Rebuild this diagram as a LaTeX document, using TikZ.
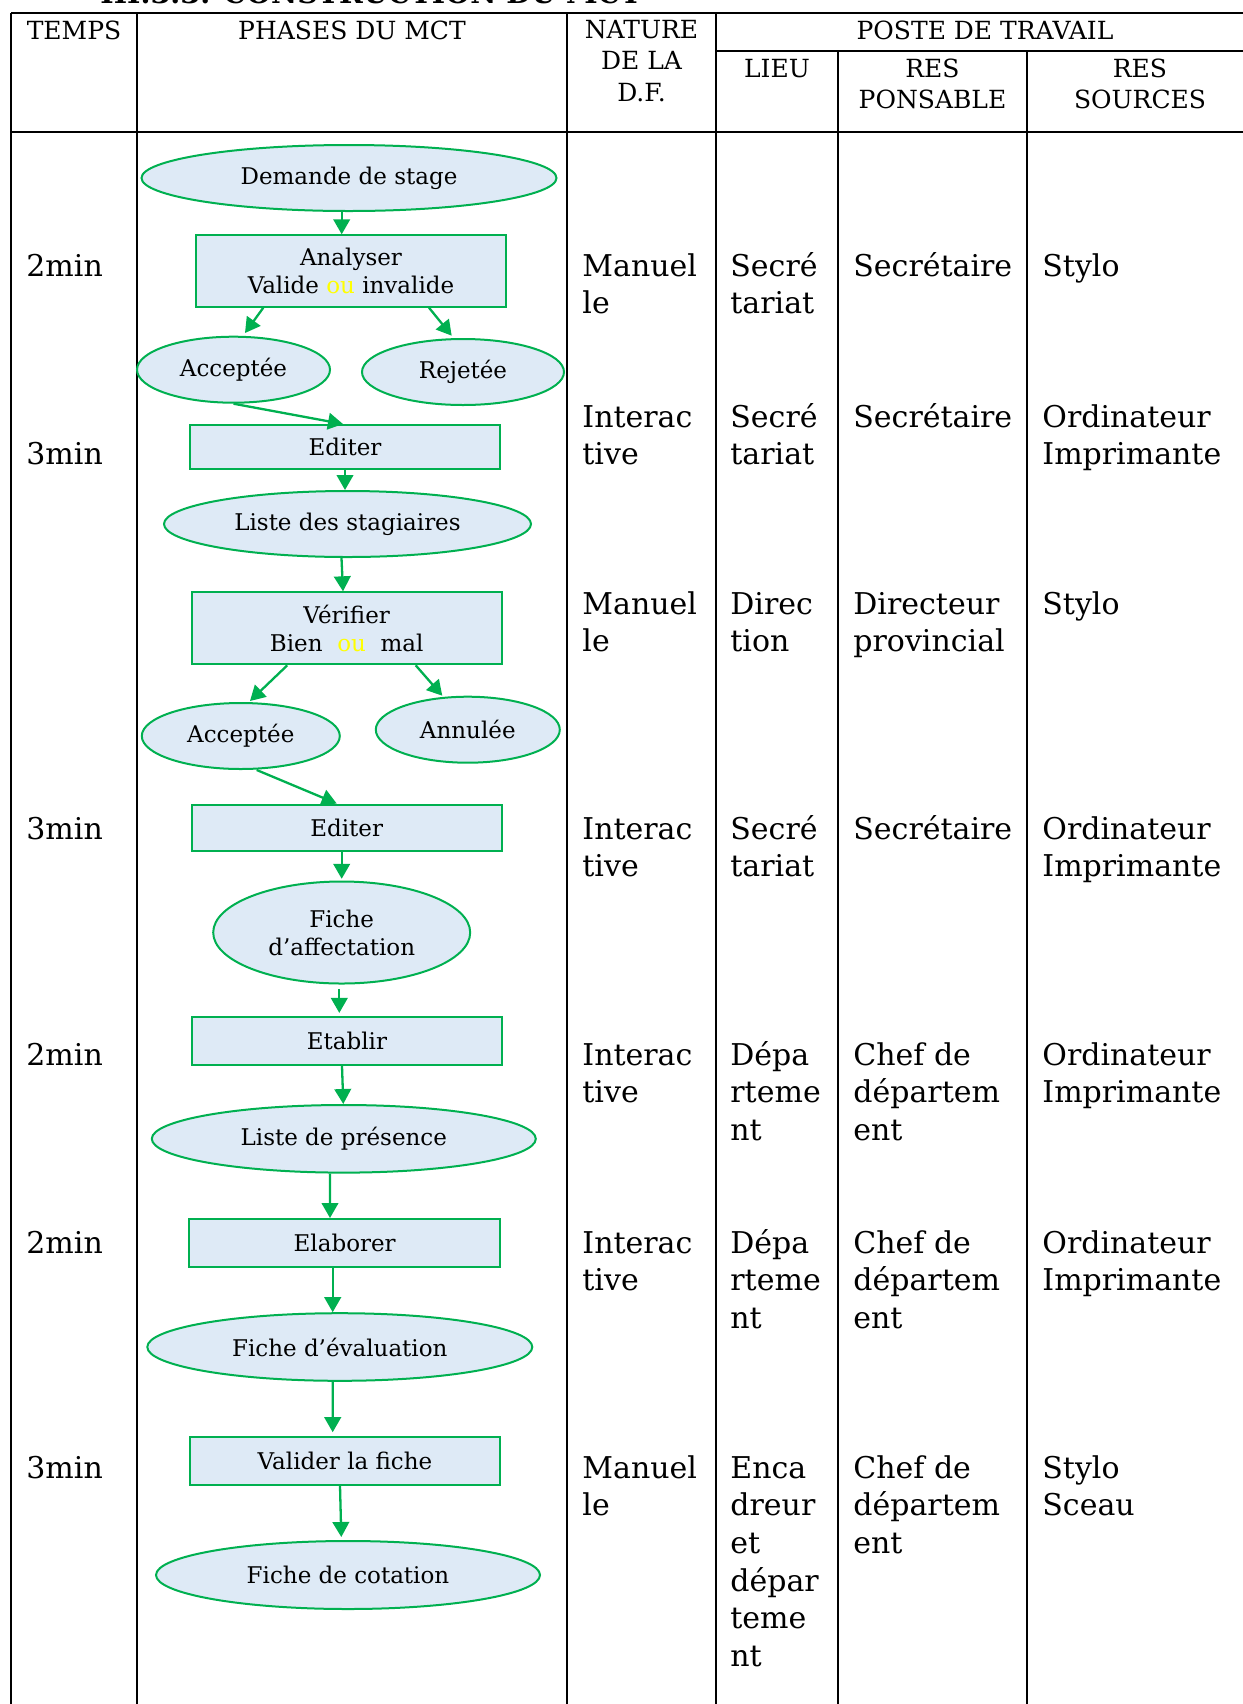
\documentclass[tikz,border=0pt]{standalone}
\usepackage{fontspec}
\setmainfont{DejaVu Serif}
\usetikzlibrary{shapes.geometric, arrows.meta}

\definecolor{flowgreen}{HTML}{00B050}
\definecolor{flowfill}{HTML}{DEEAF6}
\definecolor{ouyellow}{HTML}{FFFF00}

\newcommand\titletxt{\fontsize{14.3pt}{17pt}\selectfont\bfseries}
\newcommand\headtxt{\fontsize{12.5pt}{15.5pt}\selectfont}
\newcommand\nodetxt{\fontsize{11.5pt}{14pt}\selectfont}
\newcommand\celltxt{\fontsize{15pt}{19pt}\selectfont}

% one table cell: name prefix, x, first baseline, list of lines
\newcommand\cellcol[4]{%
  \foreach \ctext [count=\ci from 0] in {#4} {%
    \node[cell] (#1-\ci) at (#2,{#3+37.7*\ci}) {\ctext};}}
% one header cell: name prefix, centre x, first baseline, list of lines
\newcommand\headcol[4]{%
  \foreach \htext [count=\hi from 0] in {#4} {%
    \node[head] (#1-\hi) at (#2,{#3+31.4*\hi}) {\htext};}}

\begin{document}
\begin{tikzpicture}[x=0.5pt, y=-0.5pt,
  rule/.style={line width=0.85pt, black},
  procbox/.style={draw=flowgreen, fill=flowfill, line width=1pt, rectangle,
    inner sep=0pt, align=center, font=\nodetxt},
  docell/.style={draw=flowgreen, fill=flowfill, line width=1pt, ellipse,
    inner sep=0pt, align=center, font=\nodetxt},
  flow/.style={draw=flowgreen, line width=1.15pt,
    -{Triangle[length=7.5pt, width=8.3pt]}},
  head/.style={font=\headtxt, inner sep=0pt, anchor=base},
  cell/.style={font=\celltxt, inner sep=0pt, anchor=base west},
]
\useasboundingbox (0,0) rectangle (1243,1704);

% section title, mostly above the page
\node[anchor=base west, inner sep=0pt, font=\titletxt] (title) at (100,3)
  {III.3.3. CONSTRUCTION DU MCT};

% table rules
\draw[rule] (11,13) -- (1260,13);
\draw[rule] (716,51) -- (1260,51);
\draw[rule] (11,132) -- (1260,132);
\foreach \vx in {11,137,567,716} \draw[rule] (\vx,13) -- (\vx,1710);
\foreach \vx in {838,1027} \draw[rule] (\vx,51) -- (\vx,1710);

% header
\headcol{hT}{74}{39}{TEMPS}
\headcol{hP}{352}{39}{PHASES DU MCT}
\headcol{hN}{641.5}{38.5}{NATURE, DE LA, D.F.}
\headcol{hW}{985}{39}{POSTE DE TRAVAIL}
\headcol{hL}{777}{77.3}{LIEU}
\headcol{hR}{932.5}{77.3}{RES, PONSABLE}
\headcol{hS}{1140}{77.3}{RES, SOURCES}

% times
\cellcol{t1}{26}{276}{2min}
\cellcol{t2}{26}{464}{3min}
\cellcol{t4}{26}{839}{3min}
\cellcol{t5}{26}{1065}{2min}
\cellcol{t6}{26}{1253}{2min}
\cellcol{t7}{26}{1478}{3min}

% nature
\cellcol{n1}{582}{276}{Manuel, le}
\cellcol{n2}{582}{427}{Interac, tive}
\cellcol{n3}{582}{614}{Manuel, le}
\cellcol{n4}{582}{839}{Interac, tive}
\cellcol{n5}{582}{1065}{Interac, tive}
\cellcol{n6}{582}{1253}{Interac, tive}
\cellcol{n7}{582}{1478}{Manuel, le}

% lieu
\cellcol{l1}{730}{276}{Secré, tariat}
\cellcol{l2}{730}{427}{Secré, tariat}
\cellcol{l3}{730}{614}{Direc, tion}
\cellcol{l4}{730}{839}{Secré, tariat}
\cellcol{l5}{730}{1065}{Dépa, rteme, nt}
\cellcol{l6}{730}{1253}{Dépa, rteme, nt}
\cellcol{l7}{730}{1478}{Enca, dreur, et, dépar, teme, nt}

% responsable
\cellcol{r1}{853}{276}{Secrétaire}
\cellcol{r2}{853}{427}{Secrétaire}
\cellcol{r3}{853}{614}{Directeur, provincial}
\cellcol{r4}{853}{839}{Secrétaire}
\cellcol{r5}{853}{1065}{Chef de, départem, ent}
\cellcol{r6}{853}{1253}{Chef de, départem, ent}
\cellcol{r7}{853}{1478}{Chef de, départem, ent}

% ressources
\cellcol{s1}{1042}{276}{Stylo}
\cellcol{s2}{1042}{427}{Ordinateur, Imprimante}
\cellcol{s3}{1042}{614}{Stylo}
\cellcol{s4}{1042}{839}{Ordinateur, Imprimante}
\cellcol{s5}{1042}{1065}{Ordinateur, Imprimante}
\cellcol{s6}{1042}{1253}{Ordinateur, Imprimante}
\cellcol{s7}{1042}{1478}{Stylo, Sceau}

% flow of the MCT
\node[docell, minimum width=207.5pt, minimum height=33pt] (dem) at (349,178) {Demande de stage};
\node[procbox, minimum width=155pt, minimum height=35.7pt] (an) at (351,271)
  {Analyser\\Valide \textcolor{ouyellow}{ou} invalide};
\node[docell, minimum width=96.5pt, minimum height=33pt] (acc1) at (233.5,369.7) {Acceptée};
\node[docell, minimum width=101pt, minimum height=33pt] (rej) at (463,372) {Rejetée};
\node[procbox, minimum width=155pt, minimum height=22pt] (ed1) at (345,447) {Editer};
\node[docell, minimum width=183.5pt, minimum height=33pt] (lst) at (347.5,524) {Liste des stagiaires};
\node[procbox, minimum width=155pt, minimum height=36pt] (ver) at (346.7,628.3)
  {Vérifier\\Bien\ \ \textcolor{ouyellow}{ou}\ \ mal};
\node[docell, minimum width=99pt, minimum height=33pt] (acc2) at (240.8,736) {Acceptée};
\node[docell, minimum width=92pt, minimum height=33pt] (ann) at (467.8,729.7) {Annulée};
\node[procbox, minimum width=155pt, minimum height=23pt] (ed2) at (346.7,827.5) {Editer};
\node[docell, minimum width=128.5pt, minimum height=51pt] (aff) at (341.7,932.5)
  {Fiche\\d’affectation};
\node[procbox, minimum width=155.3pt, minimum height=24.2pt] (eta) at (347,1040.8) {Etablir};
\node[docell, minimum width=192pt, minimum height=33.8pt] (lpr) at (343.8,1138.8) {Liste de présence};
\node[procbox, minimum width=155.3pt, minimum height=24.2pt] (ela) at (344.7,1243.2) {Elaborer};
\node[docell, minimum width=192.5pt, minimum height=33.8pt] (eva) at (339.8,1347) {Fiche d’évaluation};
\node[procbox, minimum width=155pt, minimum height=24pt] (val) at (345,1460.6) {Valider la fiche};
\node[docell, minimum width=192pt, minimum height=34pt] (cot) at (348,1575) {Fiche de cotation};

% connectors
\draw[flow] ([xshift=-3.65pt]dem.south) -- ([xshift=-4.65pt]an.north);
\draw[flow] ([xshift=-43.85pt]an.south) -- ([xshift=5.75pt,yshift=1.35pt]acc1.north);
\draw[flow] ([xshift=39pt]an.south) -- ([xshift=-5.65pt,yshift=1.15pt]rej.north);
\draw[flow] (acc1.south) -- ([xshift=-1pt]ed1.north);
\draw[flow] (ed1.south) -- ([xshift=-1.25pt]lst.north);
\draw[flow] ([xshift=-3pt]lst.south) -- ([xshift=-1.85pt]ver.north);
\draw[flow] ([xshift=-29.7pt]ver.south) -- ([xshift=4.6pt,yshift=0.5pt]acc2.north);
\draw[flow] ([xshift=34.5pt]ver.south) -- ([xshift=-12.75pt]ann.north);
\draw[flow] ([xshift=7.95pt]acc2.south) -- ([xshift=-5pt]ed2.north);
\draw[flow] ([xshift=-2.5pt]ed2.south) -- ([yshift=0.85pt]aff.north);
\draw[flow] ([xshift=-1.2pt,yshift=-2.2pt]aff.south) -- ([xshift=-3.85pt,yshift=1.35pt]eta.north);
\draw[flow] ([xshift=-2.5pt]eta.south) -- ([xshift=-0.25pt]lpr.north);
\draw[flow] ([xshift=-6.9pt]lpr.south) -- ([xshift=-7.35pt]ela.north);
\draw[flow] ([xshift=-6pt]ela.south) -- ([xshift=-3.55pt]eva.north);
\draw[flow] ([xshift=-3.55pt]eva.south) -- ([xshift=-6.15pt,yshift=1.7pt]val.north);
\draw[flow] ([xshift=-2.5pt]val.south) -- ([xshift=-3.35pt,yshift=1.5pt]cot.north);
\end{tikzpicture}
\end{document}
